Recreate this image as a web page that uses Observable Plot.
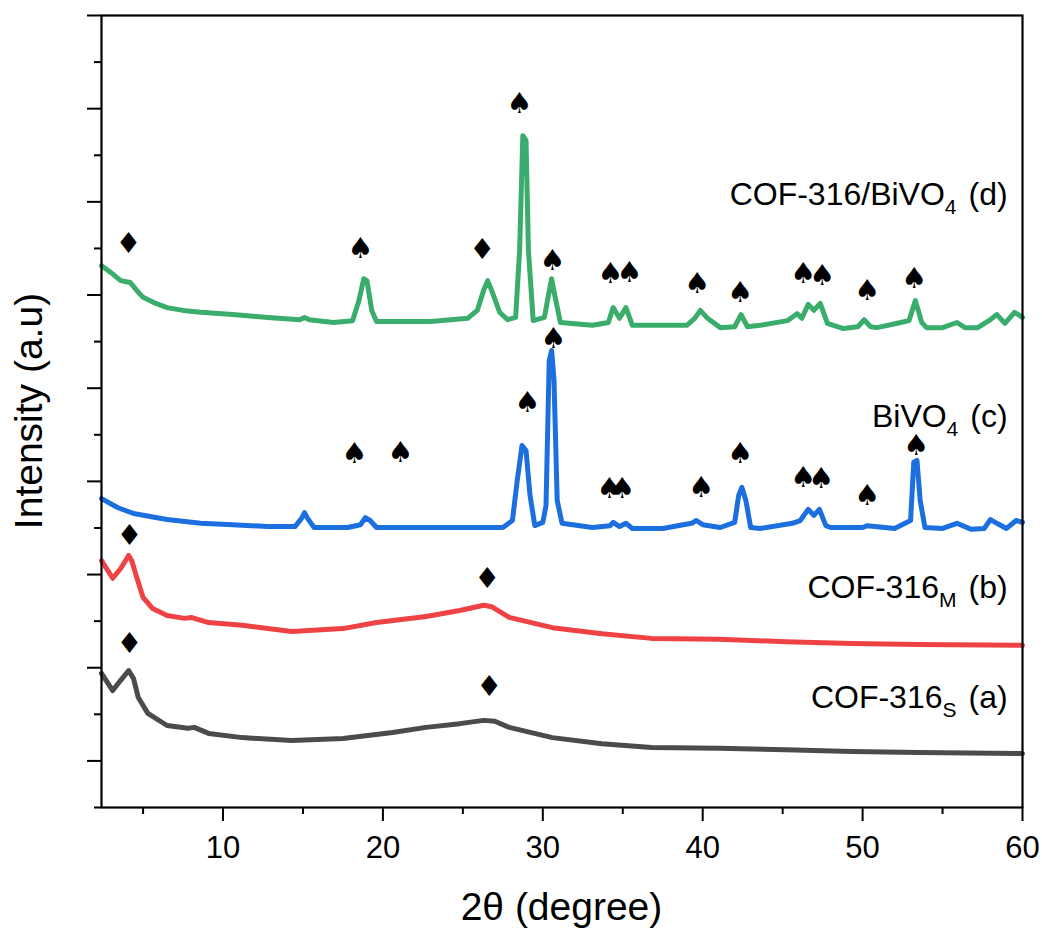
<!DOCTYPE html>
<html>
<head>
<meta charset="utf-8">
<script src="https://cdn.jsdelivr.net/npm/d3@7"></script>
<script src="https://cdn.jsdelivr.net/npm/@observablehq/plot@0.6"></script>
<style>
  body { margin: 0; background: #fff; }
  #chart svg { display: block; }
</style>
</head>
<body>
<div id="chart"></div>
<script>
// ---- data (2θ in degrees, intensity in offset a.u.) ----
const cofBiVO4_d = [
  [2.4,1163],[3.0,1148],[3.6,1131],[4.2,1127],[4.6,1110],[5.0,1095],[5.8,1082],[6.5,1073],[7.5,1067],
  [8.6,1063],[10.6,1058],[12.8,1052],[14.8,1047],[15.1,1052],[15.4,1047],[16.9,1041],[18.1,1045],
  [18.5,1088],[18.8,1135],[19.0,1131],[19.3,1067],[19.6,1043],[21.1,1043],[23.0,1043],[25.3,1050],
  [25.9,1067],[26.3,1110],[26.55,1131],[26.8,1110],[27.3,1063],[27.8,1047],[28.3,1052],[28.55,1196],
  [28.75,1442],[28.95,1432],[29.1,1196],[29.4,1045],[30.1,1052],[30.35,1099],[30.55,1135],[30.75,1099],
  [31.1,1041],[33.1,1035],[34.1,1041],[34.4,1073],[34.8,1050],[35.2,1073],[35.6,1035],[39.0,1035],
  [39.5,1050],[39.85,1067],[40.3,1050],[41.1,1030],[42.0,1032],[42.4,1058],[42.8,1032],[43.6,1035],
  [45.3,1045],[45.9,1060],[46.2,1050],[46.6,1080],[46.95,1067],[47.35,1082],[47.8,1039],[48.8,1028],
  [49.7,1032],[50.1,1047],[50.5,1032],[50.9,1030],[52.1,1039],[52.9,1045],[53.3,1088],[53.7,1041],
  [54.0,1030],[55.0,1030],[55.9,1041],[56.4,1030],[57.2,1030],[57.9,1045],[58.4,1058],[58.9,1039],
  [59.5,1063],[60.0,1052]
];
const biVO4_c = [
  [2.4,663],[3.4,644],[4.4,631],[6.5,618],[8.6,610],[10.6,607],[12.8,603],[14.5,603],[14.9,620],
  [15.1,633],[15.3,620],[15.7,601],[17.8,601],[18.6,607],[18.9,622],[19.2,616],[19.6,601],[21.0,601],
  [25.0,601],[27.5,601],[28.1,616],[28.4,702],[28.7,777],[28.95,766],[29.2,670],[29.5,605],[30.0,612],
  [30.2,648],[30.4,959],[30.55,981],[30.7,917],[30.9,659],[31.2,610],[33.1,601],[34.2,605],[34.4,612],
  [34.8,603],[35.2,610],[35.6,599],[37.5,599],[39.3,610],[39.6,616],[40.0,607],[41.1,601],[42.0,612],
  [42.25,670],[42.45,687],[42.7,659],[43.0,601],[43.6,599],[45.6,610],[46.1,616],[46.6,640],[46.95,627],
  [47.3,640],[47.7,605],[48.0,601],[50.0,601],[50.3,605],[52.0,599],[53.0,616],[53.2,741],[53.4,745],
  [53.6,659],[53.9,601],[55.0,599],[55.9,610],[56.8,597],[57.6,599],[58.0,618],[58.4,610],[59.0,599],
  [59.6,616],[60.0,612]
];
const cof316M_b = [
  [2.4,530],[3.1,492],[3.6,513],[4.1,541],[4.3,529],[4.6,494],[5.0,451],[5.6,427],[6.5,412],[7.6,406],
  [8.0,408],[9.1,397],[11.2,391],[14.3,378],[17.5,384],[19.6,397],[22.7,410],[24.8,423],[26.3,434],
  [26.8,431],[27.9,408],[30.6,386],[33.7,373],[36.8,363],[41.0,361],[45.2,356],[49.3,352],[53.5,350],
  [60.0,348]
];
const cof316S_a = [
  [2.4,288],[3.1,251],[3.6,273],[4.1,294],[4.4,277],[4.7,236],[5.3,202],[6.5,176],[7.8,170],[8.2,172],
  [9.1,159],[11.2,150],[14.3,144],[17.5,148],[20.6,161],[22.7,172],[24.8,180],[26.3,187],[27.0,185],
  [27.9,172],[30.6,150],[33.7,137],[36.8,129],[41.0,127],[45.2,124],[49.3,120],[53.5,118],[60.0,116]
];
const seriesNames = ["COF-316/BiVO4 (d)", "BiVO4 (c)", "COF-316M (b)", "COF-316S (a)"];
const seriesData = [cofBiVO4_d, biVO4_c, cof316M_b, cof316S_a];
const seriesColors = ["#3aad6c", "#1b6fdf", "#ef4245", "#4b4b4b"];

// peak markers: [symbol, 2θ, height]
const peakMarks = [
  ["♦",4.09,1211],["♠",18.59,1200],["♦",26.21,1198],["♠",28.53,1511],["♠",30.59,1174],["♠",34.21,1146],
  ["♠",35.4,1148],["♠",39.65,1125],["♠",42.34,1105],["♠",46.28,1146],["♠",47.46,1142],["♠",50.28,1110],
  ["♠",53.21,1135],
  ["♠",18.21,760],["♠",21.09,762],["♠",29.03,869],["♠",30.65,1007],["♠",34.15,685],["♠",34.96,685],
  ["♠",39.9,687],["♠",42.34,760],["♠",46.28,708],["♠",47.4,706],["♠",50.28,670],["♠",53.34,777],
  ["♦",4.15,584],["♦",26.53,492],
  ["♦",4.15,352],["♦",26.65,260]
];

// series labels: main text, subscript, tail, anchor x (2θ), baseline (a.u.)
const labelMain = ["COF-316/BiVO", "BiVO", "COF-316", "COF-316"];
const labelSub = ["4", "4", "M", "S"];
const labelTail = ["(d)", "(c)", "(b)", "(a)"];
const labelX = [59.1, 59.1, 59.1, 59.1];
const labelY = [1292, 816, 449, 212];

const xMajor = [10, 20, 30, 40, 50, 60];
const xMinor = [5, 15, 25, 35, 45, 55];
const yMajor = [100, 300, 500, 700, 900, 1100, 1300, 1500, 1700];
const yMinor = [0, 200, 400, 600, 800, 1000, 1200, 1400, 1600];

// ---- build table ----
const rows = [];
seriesData.forEach((s, i) => s.forEach(([x, y]) => rows.push({series: seriesNames[i], x, y})));
const marks = peakMarks.map(([s, x, y]) => ({s, x, y}));

const FONT = "'Liberation Sans', Arial, sans-serif";

const chart = Plot.plot({
  width: 1042,
  height: 931,
  marginLeft: 101,
  marginRight: 20,
  marginTop: 15,
  marginBottom: 124,
  style: {fontFamily: FONT, fontSize: "31px", color: "#000", background: "#fff"},
  x: {domain: [2.4, 60]},
  y: {domain: [0, 1700]},
  color: {domain: seriesNames, range: seriesColors},
  marks: [
    Plot.line(rows, {x: "x", y: "y", z: "series", stroke: "series", strokeWidth: 5, strokeLinejoin: "round", strokeLinecap: "round"}),
    Plot.text(marks, {x: "x", y: "y", text: "s", fontSize: 29, fill: "#000", fontFamily: "'DejaVu Sans', sans-serif"}),
    Plot.axisX({ticks: xMajor, tickSize: 14, tickPadding: 14, strokeWidth: 2, tickFormat: d => String(d), label: null, fontSize: 31}),
    Plot.axisX({ticks: xMinor, tickSize: 7, strokeWidth: 2, tickFormat: () => "", label: null}),
    Plot.axisY({ticks: yMajor, tickSize: 14, strokeWidth: 2, tickFormat: () => "", label: null}),
    Plot.axisY({ticks: yMinor, tickSize: 7, strokeWidth: 2, tickFormat: () => "", label: null}),
    Plot.frame({stroke: "#000", strokeWidth: 2.2})
  ]
});

document.getElementById("chart").appendChild(chart);

const sx = chart.scale("x"), sy = chart.scale("y");
const svg = d3.select(chart);

// series labels with subscripts
labelMain.forEach((m, i) => {
  const t = svg.append("text")
    .attr("x", sx.apply(labelX[i]))
    .attr("y", sy.apply(labelY[i]))
    .attr("text-anchor", "end")
    .attr("font-family", FONT)
    .attr("font-size", 32)
    .attr("fill", "#000");
  t.append("tspan").text(m);
  t.append("tspan").attr("font-size", 21).attr("dy", 9).text(labelSub[i]);
  t.append("tspan").attr("dy", -9).attr("dx", 12).text(labelTail[i]);
});

// axis titles
svg.append("text")
  .attr("x", (101 + 1022) / 2)
  .attr("y", 920)
  .attr("text-anchor", "middle")
  .attr("font-family", FONT)
  .attr("font-size", 39)
  .attr("fill", "#000")
  .text("2θ (degree)");
svg.append("text")
  .attr("transform", `translate(42, ${(15 + 807) / 2}) rotate(-90)`)
  .attr("text-anchor", "middle")
  .attr("font-family", FONT)
  .attr("font-size", 39)
  .attr("fill", "#000")
  .text("Intensity (a.u)");
</script>
</body>
</html>
